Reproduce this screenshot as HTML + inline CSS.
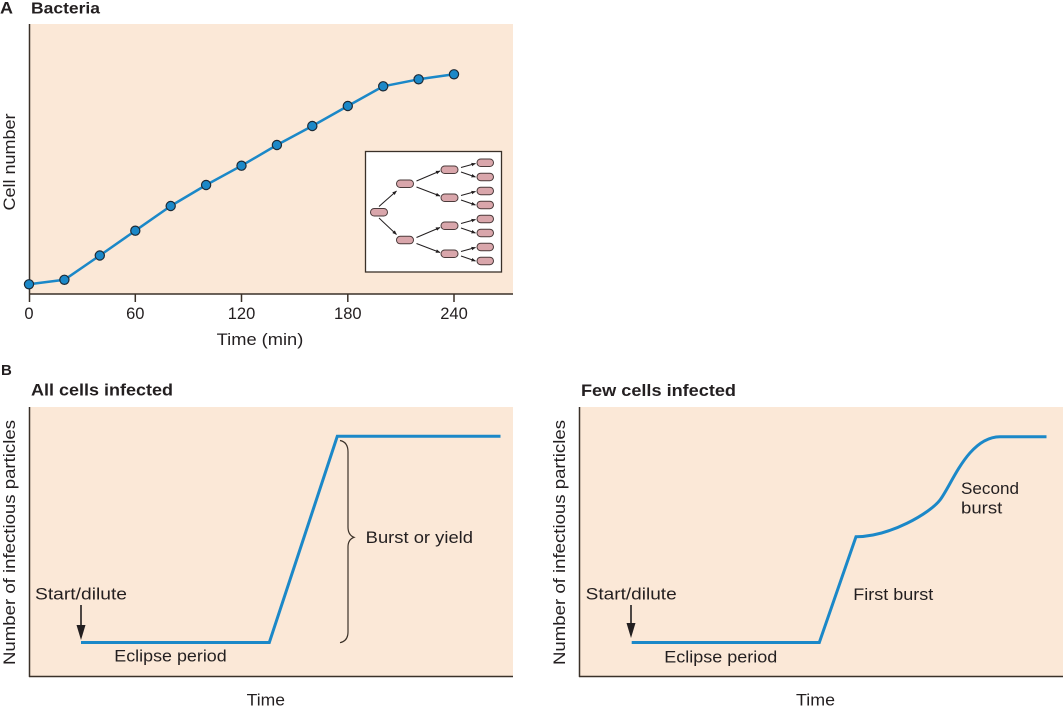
<!DOCTYPE html>
<html><head><meta charset="utf-8"><style>
html,body{margin:0;padding:0;background:#fff;}
svg{display:block;}
text{font-family:"Liberation Sans",Arial,sans-serif;fill:#231f20;}
.b{font-weight:bold;}
</style></head><body>
<svg width="1064" height="707" viewBox="0 0 1064 707" xmlns="http://www.w3.org/2000/svg">
<defs>
<marker id="ah" viewBox="0 0 10 10" refX="9" refY="5" markerWidth="4.5" markerHeight="4.5" orient="auto">
<path d="M0,1 L10,5 L0,9 Z" fill="#231f20"/>
</marker>
</defs>

<!-- Panel A -->
<text class="b" x="0" y="13.5" font-size="16.5" textLength="13" lengthAdjust="spacingAndGlyphs">A</text>
<text class="b" x="31" y="13.5" font-size="16" textLength="69" lengthAdjust="spacingAndGlyphs">Bacteria</text>
<rect x="29" y="24" width="484" height="270" fill="#fbe8d7"/>
<line x1="29.5" y1="24" x2="29.5" y2="302" stroke="#3a3129" stroke-width="1.5"/>
<line x1="29" y1="294" x2="513" y2="294" stroke="#3a3129" stroke-width="1.5"/>
<g stroke="#3a3129" stroke-width="1.5">
<line x1="135.3" y1="294" x2="135.3" y2="302"/>
<line x1="241.5" y1="294" x2="241.5" y2="302"/>
<line x1="347.8" y1="294" x2="347.8" y2="302"/>
<line x1="454" y1="294" x2="454" y2="302"/>
</g>
<g font-size="16.5" text-anchor="middle">
<text x="29" y="319">0</text>
<text x="135.3" y="319">60</text>
<text x="241.5" y="319">120</text>
<text x="347.8" y="319">180</text>
<text x="454" y="319">240</text>
</g>
<text x="216.7" y="345" font-size="17" textLength="86.6" lengthAdjust="spacingAndGlyphs">Time (min)</text>
<text transform="translate(15,162) rotate(-90)" font-size="17" text-anchor="middle" textLength="97" lengthAdjust="spacingAndGlyphs">Cell number</text>

<polyline fill="none" stroke="#1b88c8" stroke-width="2.5" stroke-linejoin="round"
points="29,284.3 64.4,279.8 99.8,255.5 135.3,230.7 170.7,206 206.1,185 241.5,165.7 276.9,145 312.3,126 347.8,106 383.2,86.3 418.6,79.3 454,74.3"/>
<g fill="#1b88c8" stroke="#1c2a36" stroke-width="1.2">
<circle cx="29" cy="284.3" r="4.6"/>
<circle cx="64.4" cy="279.8" r="4.6"/>
<circle cx="99.8" cy="255.5" r="4.6"/>
<circle cx="135.3" cy="230.7" r="4.6"/>
<circle cx="170.7" cy="206" r="4.6"/>
<circle cx="206.1" cy="185" r="4.6"/>
<circle cx="241.5" cy="165.7" r="4.6"/>
<circle cx="276.9" cy="145" r="4.6"/>
<circle cx="312.3" cy="126" r="4.6"/>
<circle cx="347.8" cy="106" r="4.6"/>
<circle cx="383.2" cy="86.3" r="4.6"/>
<circle cx="418.6" cy="79.3" r="4.6"/>
<circle cx="454" cy="74.3" r="4.6"/>
</g>

<!-- Inset -->
<rect x="365.5" y="151.5" width="136" height="120.5" fill="#fff" stroke="#3a3129" stroke-width="1.3"/>
<g fill="#d9a6ab" stroke="#4a3a3a" stroke-width="1">
<rect x="370.5" y="208.5" width="17" height="7.5" rx="3.7"/>
<rect x="396.5" y="180" width="17" height="7.5" rx="3.7"/>
<rect x="396.5" y="236.3" width="17" height="7.5" rx="3.7"/>
<rect x="441" y="166" width="17" height="7.5" rx="3.7"/>
<rect x="441" y="194" width="17" height="7.5" rx="3.7"/>
<rect x="441" y="222" width="17" height="7.5" rx="3.7"/>
<rect x="441" y="250" width="17" height="7.5" rx="3.7"/>
<rect x="477" y="159" width="16.5" height="7.5" rx="3.7"/>
<rect x="477" y="173.2" width="16.5" height="7.5" rx="3.7"/>
<rect x="477" y="187.2" width="16.5" height="7.5" rx="3.7"/>
<rect x="477" y="201.2" width="16.5" height="7.5" rx="3.7"/>
<rect x="477" y="215.2" width="16.5" height="7.5" rx="3.7"/>
<rect x="477" y="229.2" width="16.5" height="7.5" rx="3.7"/>
<rect x="477" y="243.2" width="16.5" height="7.5" rx="3.7"/>
<rect x="477" y="257.2" width="16.5" height="7.5" rx="3.7"/>
</g>
<g stroke="#231f20" stroke-width="1" marker-end="url(#ah)">
<line x1="379" y1="206.5" x2="396.5" y2="191"/>
<line x1="379" y1="218" x2="396.5" y2="234.5"/>
<line x1="416.5" y1="181" x2="440" y2="171"/>
<line x1="416.5" y1="187" x2="440" y2="196"/>
<line x1="416.5" y1="237.5" x2="440" y2="227.5"/>
<line x1="416.5" y1="243.5" x2="440" y2="252.5"/>
<line x1="461" y1="167.5" x2="475.5" y2="163.5"/>
<line x1="461" y1="172" x2="475.5" y2="177"/>
<line x1="461" y1="195.5" x2="475.5" y2="191.5"/>
<line x1="461" y1="200" x2="475.5" y2="205"/>
<line x1="461" y1="223.5" x2="475.5" y2="219.5"/>
<line x1="461" y1="228" x2="475.5" y2="233"/>
<line x1="461" y1="251.5" x2="475.5" y2="247.5"/>
<line x1="461" y1="256" x2="475.5" y2="261"/>
</g>

<!-- Panel B label -->
<text class="b" x="1" y="375" font-size="15">B</text>

<!-- Panel B left -->
<text class="b" x="31" y="395.7" font-size="17" textLength="142" lengthAdjust="spacingAndGlyphs">All cells infected</text>
<rect x="29" y="407" width="484" height="269" fill="#fbe8d7"/>
<line x1="29.5" y1="407" x2="29.5" y2="677" stroke="#3a3129" stroke-width="1.5"/>
<line x1="29" y1="676.5" x2="513" y2="676.5" stroke="#3a3129" stroke-width="1.5"/>
<text transform="translate(15,542.5) rotate(-90)" font-size="17" text-anchor="middle" textLength="245" lengthAdjust="spacingAndGlyphs">Number of infectious particles</text>
<polyline fill="none" stroke="#1b88c8" stroke-width="3" stroke-linejoin="miter" points="81,642.5 269.3,642.5 337.3,436.3 500.5,436.3"/>
<text x="35" y="599.3" font-size="16.5" textLength="92" lengthAdjust="spacingAndGlyphs">Start/dilute</text>
<line x1="81" y1="605" x2="81" y2="626" stroke="#231f20" stroke-width="1.6"/>
<path d="M76.5,625 L85.5,625 L81,640 Z" fill="#231f20"/>
<text x="114.3" y="661.7" font-size="16.5" textLength="112.4" lengthAdjust="spacingAndGlyphs">Eclipse period</text>
<path d="M340,440.5 Q348,442 348,452 L348,527 Q348,535 354,537.3 Q348,539.5 348,547 L348,632 Q348,641 340,642.7" fill="none" stroke="#3b3128" stroke-width="1.2"/>
<text x="365.7" y="543" font-size="16.5" textLength="107.3" lengthAdjust="spacingAndGlyphs">Burst or yield</text>
<text x="246.7" y="705.5" font-size="16.5" textLength="38.3" lengthAdjust="spacingAndGlyphs">Time</text>

<!-- Panel B right -->
<text class="b" x="581" y="396" font-size="17" textLength="155" lengthAdjust="spacingAndGlyphs">Few cells infected</text>
<rect x="579" y="407" width="484" height="269" fill="#fbe8d7"/>
<line x1="579.5" y1="407" x2="579.5" y2="677" stroke="#3a3129" stroke-width="1.5"/>
<line x1="579" y1="676.5" x2="1063" y2="676.5" stroke="#3a3129" stroke-width="1.5"/>
<text transform="translate(565,542.5) rotate(-90)" font-size="17" text-anchor="middle" textLength="245" lengthAdjust="spacingAndGlyphs">Number of infectious particles</text>
<path d="M631.7,642.5 L819.3,642.5 L856,536.7 C890,536.7 930,513 940,500 C952,484.4 968,437 1000,436.7 L1046.5,436.7" fill="none" stroke="#1b88c8" stroke-width="3" stroke-linejoin="miter"/>
<text x="585.7" y="599.3" font-size="16.5" textLength="91" lengthAdjust="spacingAndGlyphs">Start/dilute</text>
<line x1="631" y1="605" x2="631" y2="624" stroke="#231f20" stroke-width="1.6"/>
<path d="M626.5,623 L635.5,623 L631,638 Z" fill="#231f20"/>
<text x="664.3" y="662.7" font-size="16.5" textLength="113" lengthAdjust="spacingAndGlyphs">Eclipse period</text>
<text x="853.3" y="600" font-size="16.5" textLength="80" lengthAdjust="spacingAndGlyphs">First burst</text>
<text x="961" y="494" font-size="16.5" textLength="58" lengthAdjust="spacingAndGlyphs">Second</text>
<text x="961" y="513.3" font-size="16.5" textLength="41.3" lengthAdjust="spacingAndGlyphs">burst</text>
<text x="796" y="705.5" font-size="16.5" textLength="39" lengthAdjust="spacingAndGlyphs">Time</text>
</svg>
</body></html>
